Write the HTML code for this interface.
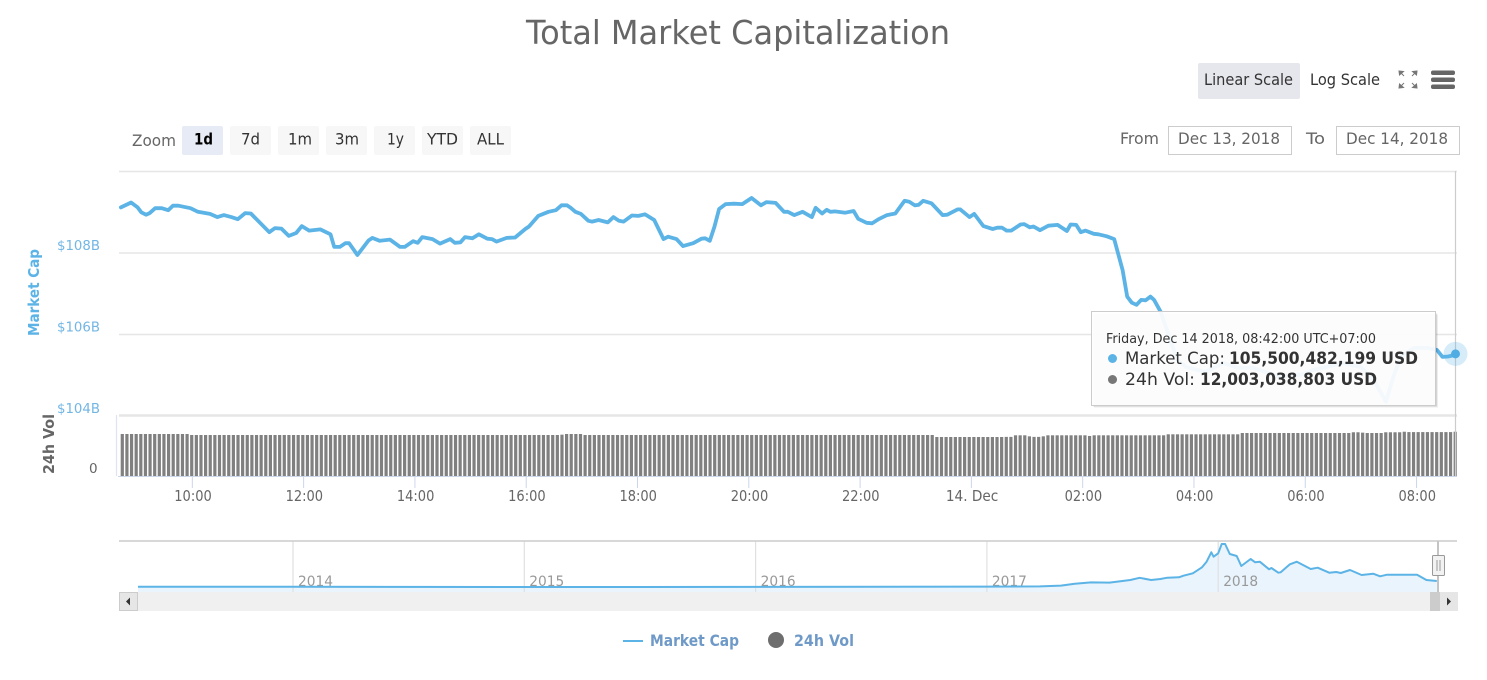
<!DOCTYPE html>
<html lang="en">
<head>
<meta charset="utf-8">
<title>Total Market Capitalization</title>
<style>
html,body{margin:0;padding:0;background:#fff;width:1487px;height:680px;overflow:hidden}
svg{display:block;font-family:"DejaVu Sans","Liberation Sans",sans-serif}
</style>
</head>
<body>
<svg id="chart" width="1487" height="680" viewBox="0 0 1487 680" xmlns="http://www.w3.org/2000/svg">
  <text x="526" y="44" font-size="33" fill="#666666" textLength="424">Total Market Capitalization</text>

  <rect x="1198" y="63" width="102" height="36" rx="2" fill="#e6e7ec"/>
  <text x="1204" y="85" font-size="16" fill="#333333" textLength="89">Linear Scale</text>
  <text x="1310" y="85" font-size="16" fill="#333333" textLength="70">Log Scale</text>
  <g stroke="#777777" stroke-width="1" fill="#777777">
    <path d="M1399 71l4.500 .5-4 3.500zM1417 71l-4.500 .5 4 3.500zM1399 88l4.500-.5-4-3.500zM1417 88l-4.500-.5 4-3.500z"/>
    <path d="M1401 73l3 3M1415 73l-3 3M1401 86l3-3M1415 86l-3-3" fill="none"/>
  </g>
  <g fill="#666666">
    <rect x="1431" y="70.500" width="24" height="4.500" rx="2"/>
    <rect x="1431" y="77.500" width="24" height="4.500" rx="2"/>
    <rect x="1431" y="84.500" width="24" height="4.500" rx="2"/>
  </g>

  <text x="132" y="146" font-size="16" fill="#666666" textLength="44">Zoom</text>
  <g><rect x="182" y="126" width="41" height="29" rx="2" fill="#e6ebf5"/><text x="194" y="144.500" font-size="16" font-weight="bold" fill="#000000" textLength="19">1d</text></g>
  <g><rect x="230" y="126" width="41" height="29" rx="2" fill="#f7f7f7"/><text x="241" y="144.500" font-size="16" fill="#333333" textLength="19">7d</text></g>
  <g><rect x="278" y="126" width="41" height="29" rx="2" fill="#f7f7f7"/><text x="288" y="144.500" font-size="16" fill="#333333" textLength="24">1m</text></g>
  <g><rect x="326" y="126" width="41" height="29" rx="2" fill="#f7f7f7"/><text x="335" y="144.500" font-size="16" fill="#333333" textLength="24">3m</text></g>
  <g><rect x="374" y="126" width="41" height="29" rx="2" fill="#f7f7f7"/><text x="387" y="144.500" font-size="16" fill="#333333" textLength="17">1y</text></g>
  <g><rect x="422" y="126" width="41" height="29" rx="2" fill="#f7f7f7"/><text x="427" y="144.500" font-size="16" fill="#333333" textLength="31">YTD</text></g>
  <g><rect x="470" y="126" width="41" height="29" rx="2" fill="#f7f7f7"/><text x="477" y="144.500" font-size="16" fill="#333333" textLength="27">ALL</text></g>

  <text x="1120" y="144" font-size="16" fill="#666666" textLength="39">From</text>
  <g><rect x="1168.500" y="126.500" width="123" height="28" fill="#ffffff" stroke="#cccccc"/><text x="1178" y="144" font-size="16" fill="#666666" textLength="102">Dec 13, 2018</text></g>
  <text x="1306" y="144" font-size="16" fill="#666666" textLength="19">To</text>
  <g><rect x="1336.500" y="126.500" width="123" height="28" fill="#ffffff" stroke="#cccccc"/><text x="1346" y="144" font-size="16" fill="#666666" textLength="102">Dec 14, 2018</text></g>

  <g id="grid"></g>
  <g id="yLabels"></g>
  <text transform="translate(39,336) rotate(-90)" font-size="15.500" font-weight="bold" fill="#5cb3e6" textLength="87">Market Cap</text>
  <text transform="translate(54,474) rotate(-90)" font-size="15.500" font-weight="bold" fill="#666666" textLength="60">24h Vol</text>
  <text x="89" y="473" font-size="13.500" fill="#666666">0</text>
  <line x1="119" y1="415" x2="1457" y2="415" stroke="#e6e6e6" stroke-width="1.500"/>
  <line x1="116.500" y1="415" x2="116.500" y2="476" stroke="#dfe4f0" stroke-width="1.200"/>

  <g id="bars"></g>
  <line x1="118" y1="476.500" x2="1457" y2="476.500" stroke="#ccd6eb"/>
  <g id="xAxis"></g>
  <line x1="1455.500" y1="171" x2="1455.500" y2="476" stroke="#cccccc" stroke-width="1.200"/>
  <path id="capLine" fill="none" stroke="#5cb3e6" stroke-width="3.800" stroke-linejoin="round" stroke-linecap="round"/>

  <circle id="haloPoint" r="12" fill="#5cb3e6" fill-opacity="0.25"/>
  <circle id="hoverPoint" r="4.500" fill="#4fade3"/>

  <g>
    <rect x="1094" y="314.500" width="344" height="93" fill="#000000" fill-opacity="0.07"/>
    <rect x="1093" y="313.500" width="344" height="93" fill="#000000" fill-opacity="0.1"/>
    <rect x="1091.500" y="311.500" width="344" height="94" fill="#ffffff" fill-opacity="0.93" stroke="#cccccc"/>
    <text x="1106" y="343" font-size="13" fill="#333333" textLength="270">Friday, Dec 14 2018, 08:42:00 UTC+07:00</text>
    <circle cx="1112.500" cy="358.500" r="4.500" fill="#5cb3e6"/>
    <text x="1125" y="364" font-size="16.500" fill="#333333" textLength="100">Market Cap:</text>
    <text x="1229" y="364" font-size="16.500" font-weight="bold" fill="#333333" textLength="189">105,500,482,199 USD</text>
    <circle cx="1112.500" cy="379.500" r="4.500" fill="#777777"/>
    <text x="1125" y="385" font-size="16.500" fill="#333333" textLength="70">24h Vol:</text>
    <text x="1200" y="385" font-size="16.500" font-weight="bold" fill="#333333" textLength="177">12,003,038,803 USD</text>
  </g>

  <g>
    <path id="navArea" fill="#d4eaf9" fill-opacity="0.5"/>
    <g id="navTicks"></g>
    <path id="navLine" fill="none" stroke="#5cb3e6" stroke-width="2" stroke-linejoin="round"/>
    <line x1="119" y1="541" x2="1457" y2="541" stroke="#cccccc" stroke-width="1.500"/>
    <rect x="119" y="592" width="1339" height="19" fill="#f0f0f0"/>
    <g><rect x="119.500" y="592.500" width="18" height="18" fill="#e6e6e6" stroke="#cccccc"/><path d="M126 601.500l4-4v8z" fill="#333333"/></g>
    <rect x="1430" y="592" width="10" height="19" fill="#cccccc"/>
    <g><rect x="1440" y="592" width="18" height="19" fill="#e6e6e6"/><path d="M1447 597.500l4 4-4 4z" fill="#333333"/></g>
    <line x1="1438" y1="541" x2="1438" y2="592" stroke="#c4c4c4" stroke-width="2"/>
    <g><rect x="1432.500" y="555.500" width="12" height="20" rx="1" fill="#f2f2f2" stroke="#999999"/><path d="M1437 560v11M1440 560v11" stroke="#999999" fill="none"/></g>
  </g>

  <g>
    <g>
      <line x1="623" y1="641" x2="643" y2="641" stroke="#5cb3e6" stroke-width="2"/>
      <text x="650" y="646" font-size="16" font-weight="bold" fill="#6f9ac8" textLength="89">Market Cap</text>
    </g>
    <g>
      <circle cx="776" cy="640" r="8" fill="#6e6e6e"/>
      <text x="794" y="646" font-size="16" font-weight="bold" fill="#6f9ac8" textLength="60">24h Vol</text>
    </g>
  </g>
</svg>
<script>
// Minutes since 08:42 on Dec 13, 2018, for the market cap samples
const capMinutes = [1,12,19,23,28,32,38,45,52,57,63,76,84,97,105,112,120,127,135,141,161,167,174,182,190,196,204,216,227,231,237,243,247,256,268,272,280,291,302,307,316,321,326,337,345,356,361,367,372,380,387,396,401,406,417,426,437,441,451,462,470,476,482,486,491,497,505,509,516,526,532,538,543,552,559,566,576,586,591,600,607,618,627,631,636,641,646,653,662,671,681,691,697,707,716,720,727,736,746,750,757,762,766,771,782,791,796,805,811,818,827,836,846,851,857,861,866,875,887,892,903,906,916,921,931,941,946,951,956,961,971,975,981,985,992,1001,1011,1021,1025,1031,1036,1041,1050,1055,1064,1072,1081,1086,1091,1096,1101,1106,1111,1115,1122,1140,1150,1170,1190,1205,1222,1251,1273,1287,1319,1338,1352,1365,1373,1381,1395,1410,1420,1426,1432,1440];
// Market cap in billions of USD
const capValues = [109.12,109.24,109.12,109.00,108.94,108.98,109.10,109.10,109.05,109.16,109.16,109.10,109.01,108.96,108.88,108.93,108.88,108.83,108.98,108.97,108.51,108.61,108.60,108.42,108.49,108.66,108.55,108.58,108.46,108.15,108.15,108.24,108.24,107.95,108.31,108.37,108.30,108.33,108.15,108.15,108.29,108.25,108.39,108.34,108.23,108.34,108.25,108.26,108.39,108.36,108.46,108.35,108.34,108.28,108.37,108.38,108.59,108.65,108.91,109.01,109.05,109.17,109.17,109.11,109.01,108.96,108.79,108.77,108.81,108.75,108.88,108.79,108.77,108.92,108.91,108.95,108.81,108.34,108.40,108.34,108.17,108.24,108.35,108.36,108.30,108.65,109.08,109.20,109.21,109.20,109.35,109.17,109.25,109.23,109.01,109.01,108.93,109.01,108.88,109.11,108.97,109.06,109.01,109.02,108.99,109.03,108.84,108.74,108.73,108.83,108.93,108.97,109.28,109.26,109.17,109.18,109.28,109.22,108.93,108.94,109.07,109.07,108.88,108.96,108.66,108.59,108.62,108.62,108.55,108.55,108.70,108.71,108.63,108.65,108.56,108.67,108.69,108.54,108.70,108.69,108.51,108.55,108.47,108.46,108.41,108.34,107.58,106.93,106.78,106.73,106.85,106.84,106.93,106.85,106.56,105.37,105.20,105.08,105.30,105.18,105.18,104.96,105.01,105.13,105.30,105.20,104.88,104.35,104.96,105.46,105.67,105.67,105.62,105.45,105.46,105.50];
// 24h volume in billions of USD, one bar per five minutes
const volumeValues = [
11.38,11.38,11.38,11.38,11.38,11.38,11.38,11.38,11.38,11.38,
11.38,11.38,11.38,11.38,11.38,11.11,11.11,11.11,11.11,11.11,
11.11,11.11,11.11,11.11,11.11,11.11,11.11,11.11,11.11,11.11,
11.11,11.11,11.11,11.11,11.11,11.11,11.11,11.11,11.11,11.11,
11.11,11.11,11.11,11.11,11.11,11.11,11.11,11.11,11.11,11.11,
11.11,11.11,11.11,11.11,11.11,11.11,11.11,11.11,11.11,11.11,
11.11,11.11,11.11,11.11,11.11,11.11,11.11,11.11,11.11,11.11,
11.11,11.11,11.11,11.11,11.11,11.11,11.11,11.11,11.11,11.11,
11.11,11.11,11.11,11.11,11.11,11.11,11.11,11.11,11.11,11.11,
11.11,11.11,11.11,11.11,11.11,11.20,11.38,11.38,11.38,11.38,
11.11,11.11,11.11,11.11,11.11,11.11,11.11,11.11,11.11,11.11,
11.11,11.11,11.11,11.11,11.11,11.11,11.11,11.11,11.11,11.11,
11.11,11.11,11.11,11.11,11.11,11.11,11.11,11.11,11.11,11.11,
11.11,11.11,11.11,11.11,11.11,11.11,11.11,11.11,11.11,11.11,
11.11,11.11,11.11,11.11,11.11,11.11,11.11,11.11,11.11,11.11,
11.11,11.11,11.11,11.11,11.11,11.11,11.11,11.11,11.11,11.11,
11.11,11.11,11.11,11.11,11.11,11.11,11.11,11.11,11.11,11.11,
11.11,11.11,11.11,11.11,11.11,11.11,10.57,10.57,10.57,10.57,
10.57,10.57,10.57,10.57,10.57,10.57,10.57,10.57,10.57,10.57,
10.57,10.60,10.60,11.03,11.03,11.03,10.75,10.60,10.60,10.75,
11.03,11.03,11.03,11.03,11.03,11.03,11.03,11.03,11.03,10.85,
11.03,11.03,11.03,11.03,11.03,11.03,11.03,11.03,11.03,11.03,
11.03,11.03,11.03,11.03,11.03,11.03,11.30,11.30,11.30,11.30,
11.30,11.30,11.30,11.30,11.30,11.30,11.30,11.30,11.30,11.30,
11.30,11.30,11.65,11.65,11.65,11.65,11.65,11.65,11.65,11.65,
11.65,11.65,11.65,11.65,11.65,11.65,11.65,11.65,11.65,11.65,
11.65,11.65,11.65,11.65,11.65,11.65,11.85,11.85,11.75,11.65,
11.65,11.65,11.65,11.85,11.85,11.85,11.85,12.00,11.90,11.90,
11.90,11.90,11.90,11.90,11.90,11.90,11.90,11.90,12.00];
const xTickMinutes = [78,198,318,438,558,678,798,918,1038,1158,1278,1398];
const xTickLabels = ['10:00','12:00','14:00','16:00','18:00','20:00','22:00','14. Dec','02:00','04:00','06:00','08:00'];
const yTickValues = [104,106,108,110];
const yTickLabels = ['$104B','$106B','$108B',''];
const navYears = [2013.33,2014.00,2015.00,2016.00,2017.00,2017.23,2017.32,2017.38,2017.45,2017.53,2017.62,2017.66,2017.71,2017.75,2017.78,2017.83,2017.85,2017.89,2017.93,2017.95,2017.97,2017.98,2018.00,2018.015,2018.03,2018.05,2018.08,2018.10,2018.14,2018.16,2018.18,2018.22,2018.23,2018.26,2018.27,2018.31,2018.34,2018.40,2018.43,2018.48,2018.51,2018.53,2018.57,2018.62,2018.67,2018.70,2018.73,2018.86,2018.90,2018.945];
const navValues = [22,24,18,20,26,30,45,80,105,100,150,190,149,168,192,200,230,274,386,491,666,584,648,821,821,634,597,411,541,480,491,349,373,285,293,442,491,355,379,285,299,280,336,243,267,218,248,248,149,131];
const navTickYears = [2014,2015,2016,2017,2018];

const SVG_NS = 'http://www.w3.org/2000/svg';
const xScale = m => 120 + m / 1440 * 1335.5;
const barScale = m => 120.7 + m / 1440 * 1332.9;
const yScale = v => 253 + (108 - v) * 40.75;
const volScale = v => 476 - v * 3.69;
const navX = y => 293 + (y - 2014) * 231.3;
const navY = v => 588 - v * 0.0536;
function make(tag, attrs, parent, text) {
  const el = document.createElementNS(SVG_NS, tag);
  for (const k in attrs) el.setAttribute(k, attrs[k]);
  if (text !== undefined) el.textContent = text;
  parent.appendChild(el);
  return el;
}

const grid = document.getElementById('grid');
const yLabels = document.getElementById('yLabels');
yTickValues.forEach((v, i) => {
  const gridLine = make('line', {x1: 119, x2: 1457, y1: yScale(v), y2: yScale(v), stroke: '#e6e6e6', 'stroke-width': 1.4}, grid);
  
  
  if (yTickLabels[i]) {
    const label = make('text', {x: 57, y: yScale(v) - 3, 'font-size': 13.5, fill: '#72b6e4', textLength: 43}, yLabels, yTickLabels[i]);
    
    
  }
});

const bars = document.getElementById('bars');
volumeValues.forEach((v, i) => {
  const bar = make('rect', {x: barScale(i * 5), y: volScale(v), width: 3.2, height: 476 - volScale(v), fill: '#808080'}, bars);
  
  
});

const xAxis = document.getElementById('xAxis');
xTickMinutes.forEach((m, i) => {
  const tick = make('line', {x1: xScale(m), x2: xScale(m), y1: 476, y2: 488, stroke: '#ccd6eb'}, xAxis);
  
  
  const label = make('text', {x: xScale(m) + 0.7, y: 501, 'text-anchor': 'middle', 'font-size': 15, fill: '#666666', textLength: xTickLabels[i].length * 7.5}, xAxis, xTickLabels[i]);
  
  
});

document.getElementById('capLine').setAttribute('d', capMinutes.map((m, i) => (i ? 'L' : 'M') + xScale(m).toFixed(1) + ' ' + yScale(capValues[i]).toFixed(1)).join(''));
const lastX = xScale(capMinutes[capMinutes.length - 1]);
const lastY = yScale(capValues[capValues.length - 1]);
['haloPoint', 'hoverPoint'].forEach(id => {
  const c = document.getElementById(id);
  c.setAttribute('cx', lastX);
  c.setAttribute('cy', lastY - 1);
});

const navTicks = document.getElementById('navTicks');
navTickYears.forEach(y => {
  const tick = make('line', {x1: navX(y), x2: navX(y), y1: 541, y2: 592, stroke: '#e0e0e0', 'stroke-width': 1.2}, navTicks);
  
  
  const label = make('text', {x: navX(y) + 5, y: 586, 'font-size': 14.5, fill: '#999999', textLength: 35}, navTicks, String(y));
  
  
});
const navPath = navYears.map((y, i) => (i ? 'L' : 'M') + navX(y).toFixed(1) + ' ' + navY(navValues[i]).toFixed(1)).join('');
document.getElementById('navLine').setAttribute('d', navPath);
document.getElementById('navArea').setAttribute('d', navPath + 'L' + navX(navYears[navYears.length - 1]).toFixed(1) + ' 592L' + navX(navYears[0]).toFixed(1) + ' 592Z');

document.querySelectorAll('text[textLength]').forEach(t => t.setAttribute('lengthAdjust', 'spacingAndGlyphs'));
</script>
</body>
</html>
